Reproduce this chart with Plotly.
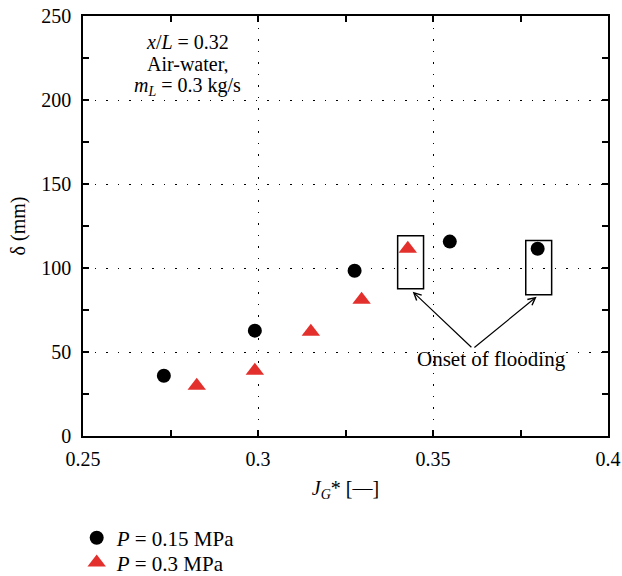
import plotly.graph_objects as go

# Data
jg_015 = [0.2731, 0.2991, 0.3276, 0.3548, 0.3799]
delta_015 = [35.9, 62.7, 98.4, 115.7, 111.5]

jg_03 = [0.2825, 0.2991, 0.3151, 0.3296, 0.3428]
delta_03 = [29.9, 38.9, 62.1, 81.1, 111.5]

# Flooding onset boxes (x0, x1, y0, y1)
flood_boxes = [(0.3399, 0.3473, 87.7, 119.2), (0.3765, 0.3839, 84.1, 116.3)]
arrow_tail = (0.3614, 52.0)
arrow_heads = [(0.3442, 85.9), (0.3796, 82.9)]

# Condition labels (text, y position in data units)
cond_lines = ["<i>x</i>/<i>L</i> = 0.32", "Air-water,", "<i>m</i><sub><i>L</i></sub> = 0.3 kg/s"]
cond_y = [234.5, 221.4, 208.3]

x_ticks = [0.25, 0.3, 0.35, 0.4]
x_tick_text = ["0.25", "0.3", "0.35", "0.4"]
y_ticks = [0, 50, 100, 150, 200, 250]

FONT = "Liberation Serif"
RED = "#e3302c"
FS = 20

fig = go.Figure()
fig.add_trace(go.Scatter(
    x=jg_015, y=delta_015, mode="markers", name="<i>P</i> = 0.15 MPa",
    marker=dict(symbol="circle", size=14, color="black"), legend="legend"))
fig.add_trace(go.Scatter(
    x=jg_03, y=delta_03, mode="markers", name="<i>P</i> = 0.3 MPa",
    marker=dict(symbol="triangle-up", size=16, color=RED), legend="legend2"))

for (x0, x1, y0, y1) in flood_boxes:
    fig.add_shape(type="rect", xref="x", yref="y", x0=x0, x1=x1, y0=y0, y1=y1,
                  line=dict(color="black", width=1.5), fillcolor="rgba(0,0,0,0)")

for hx, hy in arrow_heads:
    fig.add_annotation(x=hx, y=hy, ax=arrow_tail[0], ay=arrow_tail[1],
                       xref="x", yref="y", axref="x", ayref="y", text="",
                       showarrow=True, arrowhead=5, arrowsize=1.2, arrowwidth=1.2,
                       arrowcolor="black")

fig.add_annotation(x=0.3668, y=46.1, xref="x", yref="y", text="Onset of flooding",
                   showarrow=False, font=dict(family=FONT, size=21, color="black"))

for txt, yy in zip(cond_lines, cond_y):
    fig.add_annotation(x=0.2799, y=yy, xref="x", yref="y", text=txt,
                       showarrow=False, align="center", yanchor="middle",
                       font=dict(family=FONT, size=FS, color="black"),
                       bgcolor="white", borderpad=0)

axis_common = dict(
    showline=True, linecolor="black", linewidth=1.5, mirror="ticks",
    ticks="inside", ticklen=6, tickwidth=1.5, tickcolor="black",
    showgrid=True, gridcolor="black", gridwidth=1, griddash="1.5px,10px",
    zeroline=False, tickfont=dict(family=FONT, size=FS, color="black"),
    automargin=False, ticklabeloverflow="allow",
)

fig.update_xaxes(range=[0.25, 0.4], tickvals=x_ticks, ticktext=x_tick_text,
                 ticklabelstandoff=4,
                 minor=dict(dtick=0.025, tick0=0.25, ticks="inside", ticklen=6,
                            tickwidth=1.5, tickcolor="black", showgrid=False),
                 title=dict(text="<i>J</i><sub><i>G</i></sub>* [—]",
                            font=dict(family=FONT, size=FS, color="black"), standoff=12),
                 **axis_common)
fig.update_yaxes(range=[0, 250], tickvals=y_ticks,
                 ticklabelstandoff=6,
                 minor=dict(dtick=25, tick0=0, ticks="inside", ticklen=6,
                            tickwidth=1.5, tickcolor="black", showgrid=False),
                 title=dict(text="δ (mm)", font=dict(family=FONT, size=FS, color="black"),
                            standoff=10),
                 **axis_common)

legend_style = dict(xanchor="left", yanchor="middle", bgcolor="rgba(0,0,0,0)",
                    font=dict(family=FONT, size=21, color="black"), itemsizing="trace")

fig.update_layout(
    width=622, height=576,
    margin=dict(l=83, r=14, t=16, b=140, autoexpand=False),
    plot_bgcolor="white", paper_bgcolor="white",
    font=dict(family=FONT, size=FS, color="black"),
    showlegend=True,
    legend=dict(x=-0.012, y=-0.243, **legend_style),
    legend2=dict(x=-0.012, y=-0.302, **legend_style),
)

# Remove the default 8 px page margin so the figure sits at the window origin.
fig.write_html("out.html",
               config={"displayModeBar": False},
               post_script="document.body.style.margin='0';"
                           "document.documentElement.style.overflow='hidden';")
